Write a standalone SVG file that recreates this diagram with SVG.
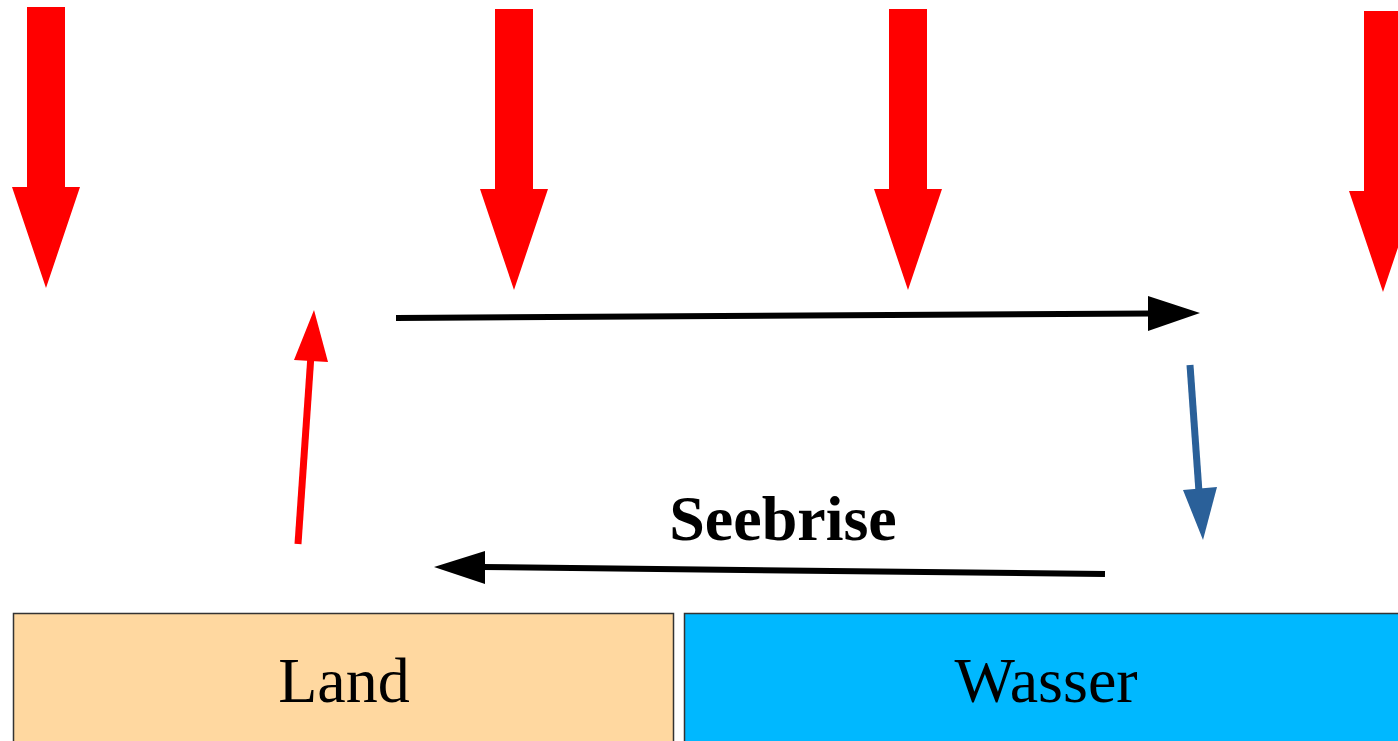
<svg xmlns="http://www.w3.org/2000/svg" width="1398" height="741" viewBox="0 0 1398 741">
<style>
.sun{fill:#ff0000}
.lbl{font-family:"Liberation Serif","Times New Roman",serif;font-size:64px;text-anchor:middle;fill:#000}
.box{stroke:#333;stroke-width:1.5}
</style>
<rect width="1398" height="741" fill="#fff"/>
<g id="sun1"><polygon class="sun" points="27,7 65,7 65,187 80,187 46,288 12,187 27,187"/></g>
<g id="sun2"><polygon class="sun" points="495,9 533,9 533,189 548,189 514,290 480,189 495,189"/></g>
<g id="sun3"><polygon class="sun" points="889,9 927,9 927,189 942,189 908,290 874,189 889,189"/></g>
<g id="sun4"><polygon class="sun" points="1364,11 1402,11 1402,191 1417,191 1383,292 1349,191 1364,191"/></g>
<g id="connectors">
<line x1="298" y1="544" x2="311" y2="355" stroke="#ff0000" stroke-width="7"/>
<polygon points="314,310 294,360 328,362" fill="#ff0000"/>
<line x1="396" y1="318" x2="1152" y2="313.5" stroke="#000" stroke-width="6"/>
<polygon points="1200,313 1148,296 1148,331" fill="#000"/>
<line x1="1190" y1="365" x2="1199" y2="492" stroke="#2a6099" stroke-width="7"/>
<polygon points="1203,540 1183,490 1217,487" fill="#2a6099"/>
<line x1="1105" y1="574" x2="482" y2="567" stroke="#000" stroke-width="6"/>
<polygon points="434,567 485,551 485,584" fill="#000"/>
</g>
<g id="seebrise"><text class="lbl" x="783" y="540" font-weight="bold">Seebrise</text></g>
<g id="land"><rect class="box" x="13.5" y="613.5" width="660" height="140" fill="#ffd8a0"/><text class="lbl" x="344" y="702">Land</text></g>
<g id="wasser"><rect class="box" x="684.5" y="613.5" width="724" height="140" fill="#00b8ff"/><text class="lbl" x="1046" y="702">Wasser</text></g>
</svg>
